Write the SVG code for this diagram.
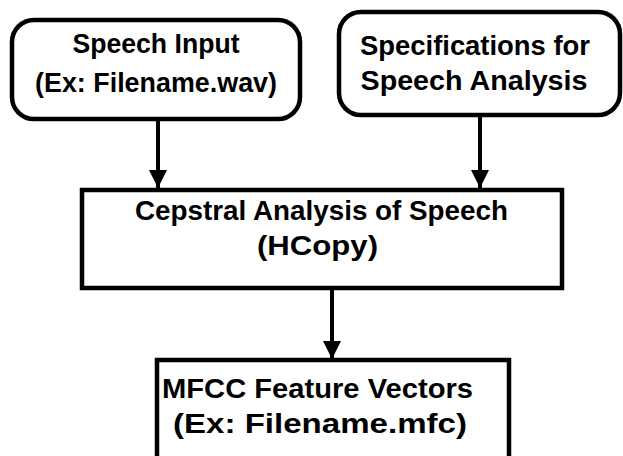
<svg xmlns="http://www.w3.org/2000/svg" width="623" height="456" viewBox="0 0 623 456">
<style>
.box{fill:#fff;stroke:#000;stroke-width:4.5}
.t{font-family:"Liberation Sans",Arial,sans-serif;font-weight:bold;font-size:27px;fill:#000;text-anchor:middle}
.edge{stroke:#000;stroke-width:4;fill:none}
</style>
<defs>
<marker id="ah" markerUnits="userSpaceOnUse" markerWidth="18" markerHeight="18" viewBox="0 0 18 18" refX="18" refY="9" orient="auto">
<path d="M0,0 L18,9 L0,18 Z" fill="#000"/>
</marker>
</defs>
<rect width="623" height="456" fill="#fff"/>
<g id="connectors">
<line class="edge" x1="158" y1="120" x2="158" y2="188" marker-end="url(#ah)"/>
<line class="edge" x1="480" y1="116" x2="480" y2="188" marker-end="url(#ah)"/>
<line class="edge" x1="332" y1="289" x2="332" y2="359" marker-end="url(#ah)"/>
</g>
<g id="speech-input">
<rect class="box" x="12" y="20" width="288" height="99" rx="22"/>
<text class="t" x="156" y="53" textLength="167" lengthAdjust="spacingAndGlyphs">Speech Input</text>
<text class="t" x="156" y="92" textLength="242" lengthAdjust="spacingAndGlyphs">(Ex: Filename.wav)</text>
</g>
<g id="specifications">
<rect class="box" x="339" y="12" width="281" height="103" rx="22"/>
<text class="t" x="475" y="55" textLength="230" lengthAdjust="spacingAndGlyphs">Specifications for</text>
<text class="t" x="474" y="90" textLength="227" lengthAdjust="spacingAndGlyphs">Speech Analysis</text>
</g>
<g id="cepstral">
<rect class="box" x="82" y="190" width="480" height="98"/>
<text class="t" x="321.5" y="220" textLength="373" lengthAdjust="spacingAndGlyphs">Cepstral Analysis of Speech</text>
<text class="t" x="317.5" y="255" textLength="121" lengthAdjust="spacingAndGlyphs">(HCopy)</text>
</g>
<g id="mfcc">
<rect class="box" x="157" y="360" width="352" height="110"/>
<text class="t" x="317.5" y="398" textLength="311" lengthAdjust="spacingAndGlyphs">MFCC Feature Vectors</text>
<text class="t" x="320" y="433" textLength="294" lengthAdjust="spacingAndGlyphs">(Ex: Filename.mfc)</text>
</g>
</svg>
